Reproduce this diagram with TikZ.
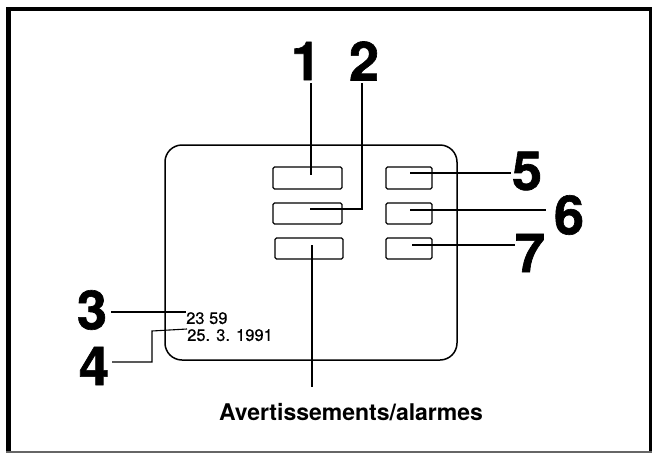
\documentclass[tikz,border=0pt]{standalone}
\usepackage{fontspec}
\setmainfont{TeX Gyre Heros}
\newfontfamily\heavydigits{texgyreheros-bold.otf}[FakeBold=1.2]
\newfontfamily\smalldigits{texgyreheros-regular.otf}[FakeBold=0.6]
\begin{document}
\begin{tikzpicture}[x=1pt,y=-1pt,
  scr/.style={draw, line width=1.5pt, rounded corners=17pt},
  btn/.style={draw, line width=1.4pt, rounded corners=1.5pt, minimum width=#1, minimum height=21pt, inner sep=0pt},
  lead/.style={line width=1.1pt},
  big/.style={font=\fontsize{54}{54}\heavydigits, inner sep=0pt},
  small/.style={font=\fontsize{16.5}{16.5}\smalldigits, inner sep=0pt, anchor=north west},
  caption/.style={font=\fontsize{23}{23}\selectfont\bfseries, inner sep=0pt, anchor=base}
]
\useasboundingbox (0,0) rectangle (654,453);
% outer frame
\draw[line width=5pt] (8.5,7) -- (8.5,453);
\draw[line width=4pt] (6.5,9) -- (652,9);
\draw[line width=3pt] (650.5,7) -- (650.5,453);
\draw[line width=2pt, black!60] (6,452) -- (652,452);
% screen
\draw[scr] (165,145) rectangle (457,360);
% buttons
\node[btn=69pt, minimum height=22pt] (b1) at (307.5,178) {};
\node[btn=69pt] (b2) at (307.5,213.5) {};
\node[btn=68pt] (b3) at (309,248.5) {};
\node[btn=46pt, minimum height=22pt] (b5) at (409,178) {};
\node[btn=46pt] (b6) at (409,213.5) {};
\node[btn=46pt] (b7) at (409,248.5) {};
% labels
\node[big] (l1) at (306,61) {1};
\node[big] (l2) at (364,61) {2};
\node[big] (l3) at (92,310) {3};
\node[big] (l4) at (94,366) {4};
\node[big] (l5) at (527,171) {5};
\node[big] (l6) at (569,215) {6};
\node[big] (l7) at (530,253) {7};
\node[small] (t1) at (186,312) {23 59};
\node[small] (t2) at (187,329) {25. 3. 1991};
\node[caption] (cap) at (351,420) {Avertissements/alarmes};
% leader points
\coordinate (p1) at (311,175);
\coordinate (p2) at (310,209);
\coordinate (p3) at (312,245);
\coordinate (p5) at (410,173);
\coordinate (p6) at (410,210);
\coordinate (p7) at (412,245);
% leaders
\draw[lead] (311,83) -- (p1);
\draw[lead] (362,83) -- (362,209) -- (p2);
\draw[lead] (p5) -- (511,173);
\draw[lead] (p6) -- (546,210);
\draw[lead] (p7) -- (515,245);
\draw[lead] (p3) -- (312,387);
\draw[lead] (111,312) -- (t1.north west);
\draw[lead] (112,362) -- (152,362) -- (152,331) -- (t2.north west);
\end{tikzpicture}
\end{document}
